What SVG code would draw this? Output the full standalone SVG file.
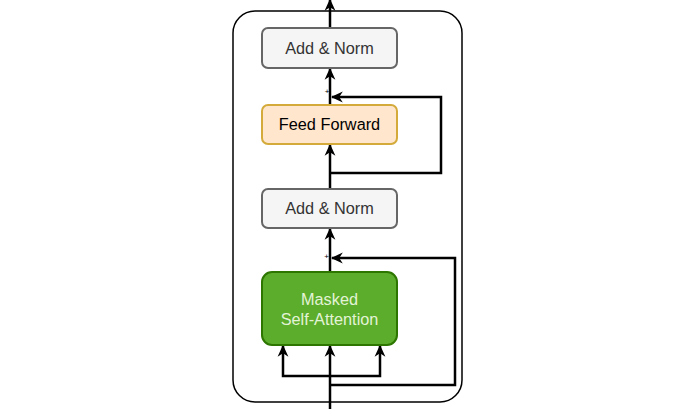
<svg xmlns="http://www.w3.org/2000/svg" width="680" height="409" viewBox="0 0 680 409">
<defs>
<marker id="arr" viewBox="0 0 10 10" refX="9" refY="5" markerWidth="12" markerHeight="12" markerUnits="userSpaceOnUse" orient="auto">
<path d="M0,0.5 L10,5 L0,9.5 L3,5 Z" fill="#000"/>
</marker>
<style>
.box{stroke-width:2}
.an{fill:#f5f5f5;stroke:#666666}
.ff{fill:#ffe6cc;stroke:#d4aa3a}
.ma{fill:#5cad2c;stroke:#2d7600}
.t{font-family:"Liberation Sans",Arial,sans-serif;font-size:16.3px;text-anchor:middle}
.c{fill:none;stroke:#000;stroke-width:2.5}
.p{font-family:"Liberation Sans",Arial,sans-serif;font-size:8px;text-anchor:middle;fill:#000}
</style>
</defs>
<rect width="680" height="409" fill="#fff"/>
<rect id="outer" x="233" y="11" width="229" height="391" rx="22" fill="none" stroke="#000" stroke-width="1.5"/>
<g id="connectors">
<path class="c" d="M330,409 V346" marker-end="url(#arr)"/>
<path class="c" d="M330,376 H283 V346" marker-end="url(#arr)"/>
<path class="c" d="M330,376 H380 V346" marker-end="url(#arr)"/>
<path class="c" d="M330,385 H455 V258 H332" marker-end="url(#arr)"/>
<path class="c" d="M330,272 V229" marker-end="url(#arr)"/>
<path class="c" d="M330,189 V145" marker-end="url(#arr)"/>
<path class="c" d="M330,173 H441 V97 H332" marker-end="url(#arr)"/>
<path class="c" d="M330,105 V69" marker-end="url(#arr)"/>
<path class="c" d="M330,28 V0" marker-end="url(#arr)"/>
<text class="p" x="326.5" y="259">+</text>
<text class="p" x="327" y="94">+</text>
</g>
<g id="addnorm1">
<rect class="box an" x="262" y="28" width="135" height="40" rx="6"/>
<text class="t" x="329.5" y="53.5" fill="#333333">Add &amp; Norm</text>
</g>
<g id="feedforward">
<rect class="box ff" x="262" y="105" width="135" height="39" rx="6"/>
<text class="t" x="329.5" y="130" fill="#000">Feed Forward</text>
</g>
<g id="addnorm2">
<rect class="box an" x="262" y="189" width="135" height="39" rx="6"/>
<text class="t" x="329.5" y="214" fill="#333333">Add &amp; Norm</text>
</g>
<g id="masked">
<rect class="box ma" x="262" y="272" width="135" height="73" rx="10"/>
<text class="t" x="329.5" y="304.5" fill="#e3f3d6">Masked</text>
<text class="t" x="329.5" y="324.5" fill="#e3f3d6">Self-Attention</text>
</g>
</svg>
